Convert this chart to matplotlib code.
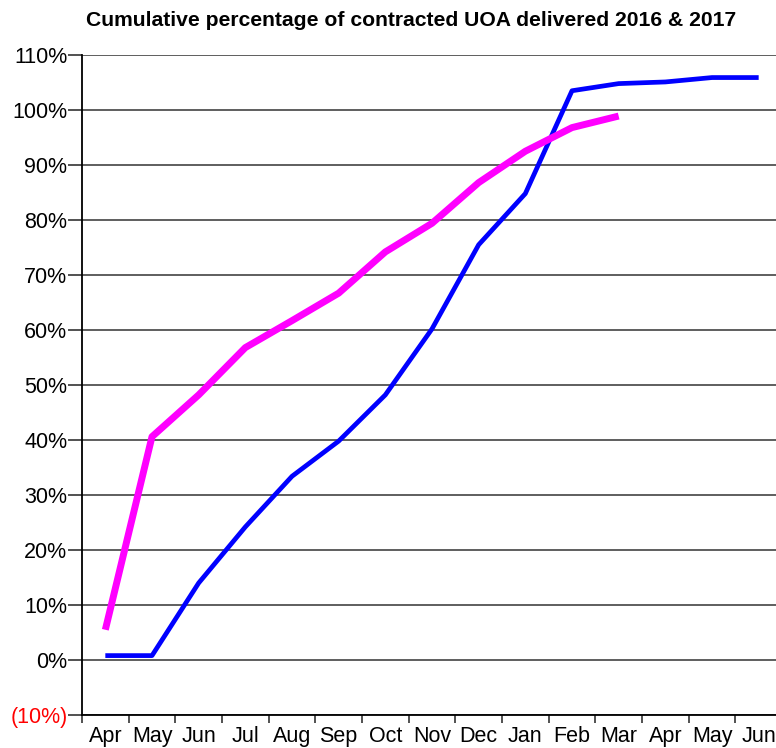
import matplotlib.pyplot as plt
from matplotlib.ticker import FixedLocator

# Data
months = ["Apr", "May", "Jun", "Jul", "Aug", "Sep", "Oct", "Nov",
          "Dec", "Jan", "Feb", "Mar", "Apr", "May", "Jun"]

blue_vals = [0.8, 0.8, 14.0, 24.2, 33.4, 39.8, 48.2, 60.2, 75.5, 84.8,
             103.5, 104.8, 105.1, 105.9, 105.9]
magenta_vals = [5.5, 40.6, 48.2, 56.8, 61.7, 66.7, 74.2, 79.4, 86.8,
                92.5, 96.8, 98.9]

ytick_vals = list(range(-10, 111, 10))
ytick_labels = ["(10%)"] + [f"{v}%" for v in ytick_vals[1:]]

plt.rcParams["font.family"] = ["Liberation Sans", "DejaVu Sans"]

fig = plt.figure(figsize=(7.76, 7.48), dpi=100)
ax = fig.add_axes([82 / 776, 33 / 748, 700 / 776, 660 / 748])

x_blue = list(range(len(blue_vals)))
x_mag = list(range(len(magenta_vals)))

ax.plot(x_blue, blue_vals, color="#0000ff", linewidth=3.4,
        solid_capstyle="butt", zorder=3)
ax.plot(x_mag, magenta_vals, color="#ff00ff", linewidth=5.0,
        solid_capstyle="butt", zorder=4)

ax.set_xlim(-0.5, len(months) - 0.5)
ax.set_ylim(-10, 110)

# y axis
ax.set_yticks(ytick_vals)
ax.set_yticklabels(ytick_labels, fontsize=15.5)
ax.get_yticklabels()[0].set_color("red")
ax.yaxis.grid(True, color="#333333", linewidth=1.1)
ax.set_axisbelow(True)

# x axis: boundaries as ticks, labels centred in categories
ax.xaxis.set_major_locator(FixedLocator([i - 0.5 for i in range(len(months) + 1)]))
ax.xaxis.set_major_formatter(plt.NullFormatter())
ax.xaxis.set_minor_locator(FixedLocator(list(range(len(months)))))
ax.set_xticklabels(months, minor=True, fontsize=15.5)
ax.tick_params(axis="x", which="major", length=5.5, width=1.2, color="#333333")
ax.tick_params(axis="x", which="minor", length=0, pad=8)
ax.tick_params(axis="y", length=10, width=1.2, color="#333333", pad=0.5)

ax.spines["top"].set_visible(False)
ax.spines["right"].set_visible(False)
ax.spines["left"].set_linewidth(1.3)
ax.spines["bottom"].set_linewidth(1.3)

fig.text(411 / 776, 1 - 20 / 748,
         "Cumulative percentage of contracted UOA delivered 2016 & 2017",
         ha="center", va="center", fontsize=15.2, fontweight="bold")

fig.savefig("out.png", dpi=100)
